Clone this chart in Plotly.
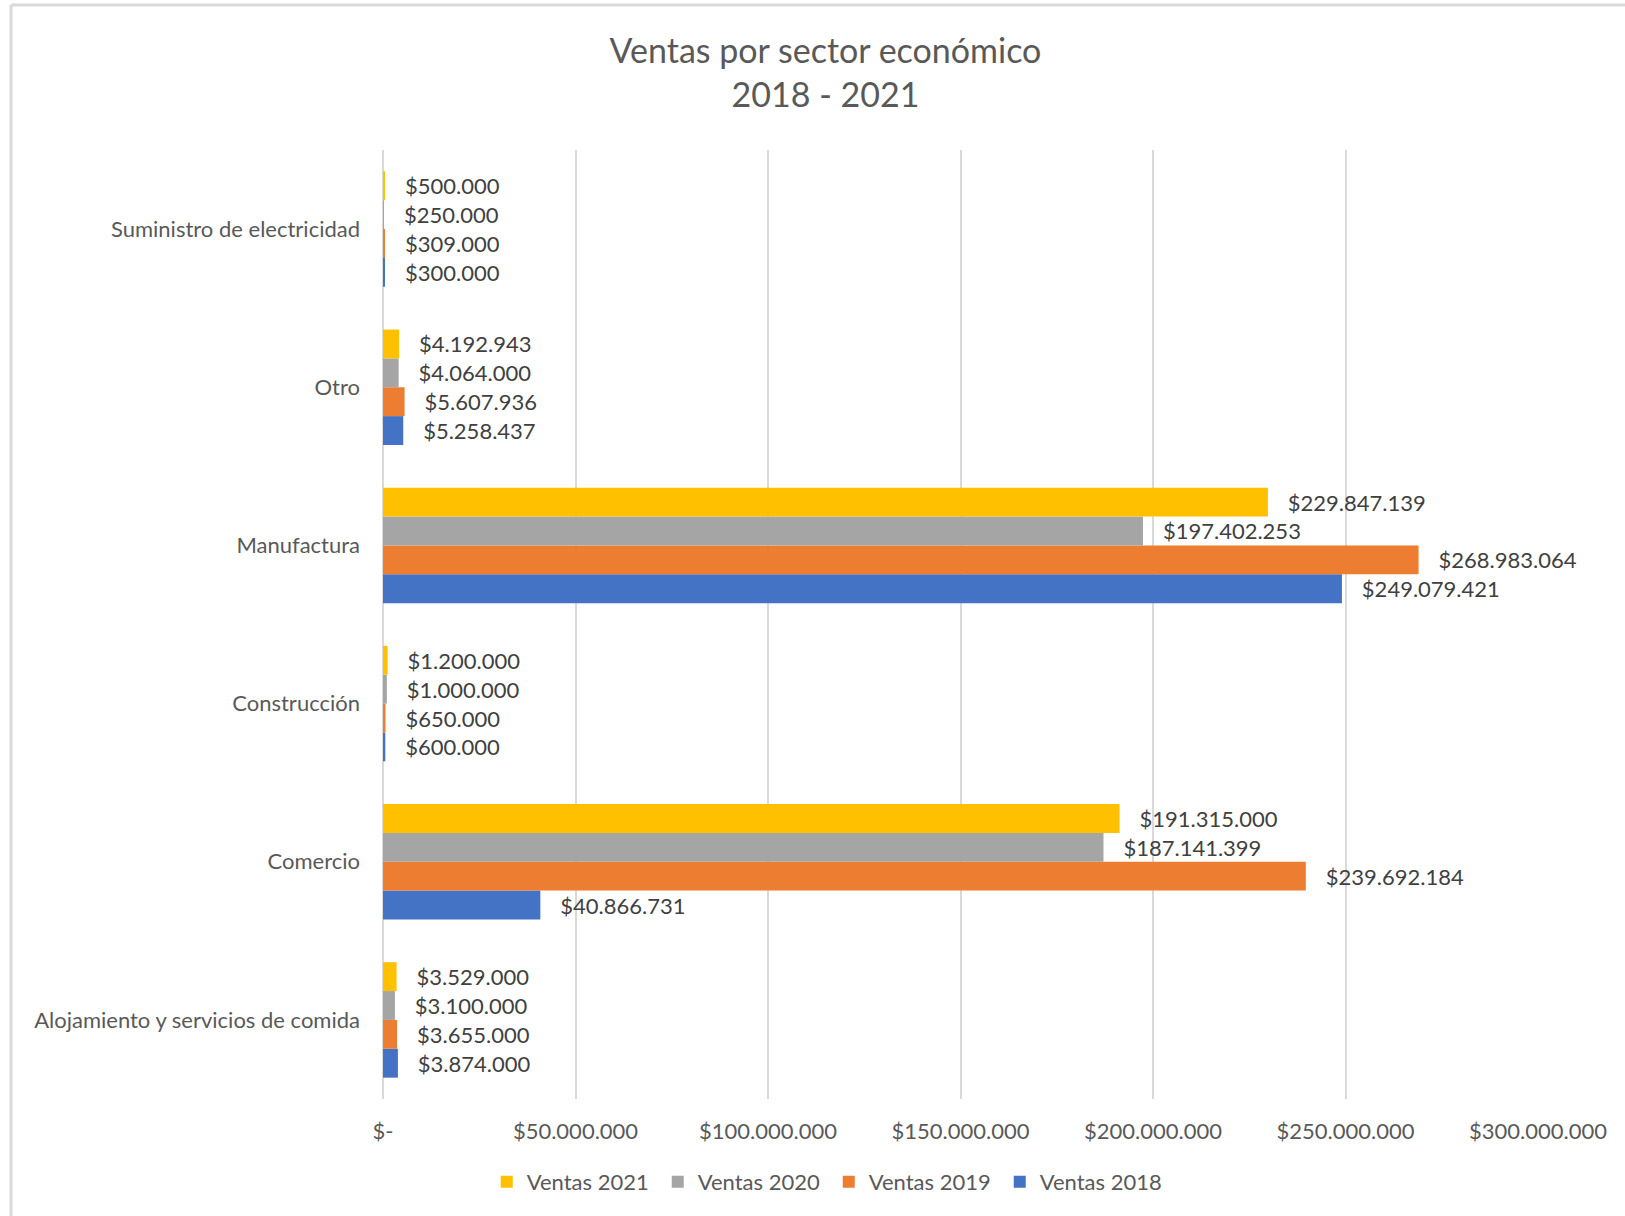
"""Ventas por sector económico 2018 - 2021, horizontal grouped bars."""

import plotly.graph_objects as go

# Categories from bottom to top (plotly draws the first category at the bottom)
SECTORS = [
    "Alojamiento y servicios de comida",
    "Comercio",
    "Construcción",
    "Manufactura",
    "Otro",
    "Suministro de electricidad",
]

VENTAS_2018 = [3874000, 40866731, 600000, 249079421, 5258437, 300000]
VENTAS_2019 = [3655000, 239692184, 650000, 268983064, 5607936, 309000]
VENTAS_2020 = [3100000, 187141399, 1000000, 197402253, 4064000, 250000]
VENTAS_2021 = [3529000, 191315000, 1200000, 229847139, 4192943, 500000]

TICK_VALUES = [0, 50000000, 100000000, 150000000, 200000000, 250000000, 300000000]
TICK_LABELS = ["$-", "$50.000.000", "$100.000.000", "$150.000.000",
               "$200.000.000", "$250.000.000", "$300.000.000"]

SERIES = [
    ("Ventas 2018", VENTAS_2018, "#4472C4"),
    ("Ventas 2019", VENTAS_2019, "#ED7D31"),
    ("Ventas 2020", VENTAS_2020, "#A5A5A5"),
    ("Ventas 2021", VENTAS_2021, "#FFC000"),
]

FONT = "Lato"
TEXT_GREY = "#595959"
GRID = "#D9D9D9"

fig = go.Figure()
for name, values, color in SERIES:
    fig.add_trace(go.Bar(
        y=SECTORS,
        x=values,
        name=name,
        orientation="h",
        marker={"color": color, "line": {"width": 0}},
        texttemplate="\u00a0\u00a0\u00a0$%{x:,.0f}",
        textposition="outside",
        textfont={"family": FONT, "size": 22, "color": "#404040"},
        constraintext="none",
        cliponaxis=False,
    ))

fig.update_layout(
    width=1625,
    height=1216,
    paper_bgcolor="white",
    plot_bgcolor="white",
    separators=",.",
    font={"family": FONT, "color": TEXT_GREY},
    title={
        "text": "Ventas por sector económico<br>2018 - 2021",
        "font": {"family": FONT, "size": 34, "color": TEXT_GREY},
        "xref": "container", "x": 0.508, "xanchor": "center",
        "yref": "container", "y": 1 - 62.5 / 1216, "yanchor": "middle",
    },
    barmode="group",
    bargap=0.27,
    bargroupgap=0,
    margin={"l": 383, "r": 87, "t": 150, "b": 117},
    legend={
        "orientation": "h",
        "traceorder": "reversed",
        "xref": "container", "x": 0.51, "xanchor": "center",
        "yref": "container", "y": 1 - 1182 / 1216, "yanchor": "middle",
        "font": {"family": FONT, "size": 22, "color": TEXT_GREY},
        "itemwidth": 30,
        "entrywidth": 126,
    },
    xaxis={
        "range": [0, 300000000],
        "tickvals": TICK_VALUES,
        "ticktext": TICK_LABELS,
        "tickfont": {"family": FONT, "size": 22, "color": TEXT_GREY},
        "showgrid": True,
        "gridcolor": GRID,
        "gridwidth": 2,
        "zeroline": True,
        "zerolinecolor": GRID,
        "zerolinewidth": 2,
        "ticklabelstandoff": 17,
        "fixedrange": True,
    },
    yaxis={
        "showgrid": False,
        "zeroline": False,
        "tickfont": {"family": FONT, "size": 22, "color": TEXT_GREY},
        "ticklabelstandoff": 22,
        "fixedrange": True,
    },
    shapes=[
        # chart border, only the top and left edges are visible in the reference
        {"type": "line", "xref": "paper", "yref": "paper",
         "x0": (11 - 383) / 1155, "x1": (1625 - 383) / 1155,
         "y0": 1 + (150 - 5) / 949, "y1": 1 + (150 - 5) / 949,
         "line": {"color": GRID, "width": 3}},
        {"type": "line", "xref": "paper", "yref": "paper",
         "x0": (11 - 383) / 1155, "x1": (11 - 383) / 1155,
         "y0": 1 + (150 - 5) / 949, "y1": -(1216 - 1099) / 949,
         "line": {"color": GRID, "width": 3}},
    ],
)

# drop the browser's default page margin so the figure sits at the top-left corner
fig.write_html(
    "out.html",
    config={"displayModeBar": False},
    post_script="document.body.style.margin = '0';",
)
